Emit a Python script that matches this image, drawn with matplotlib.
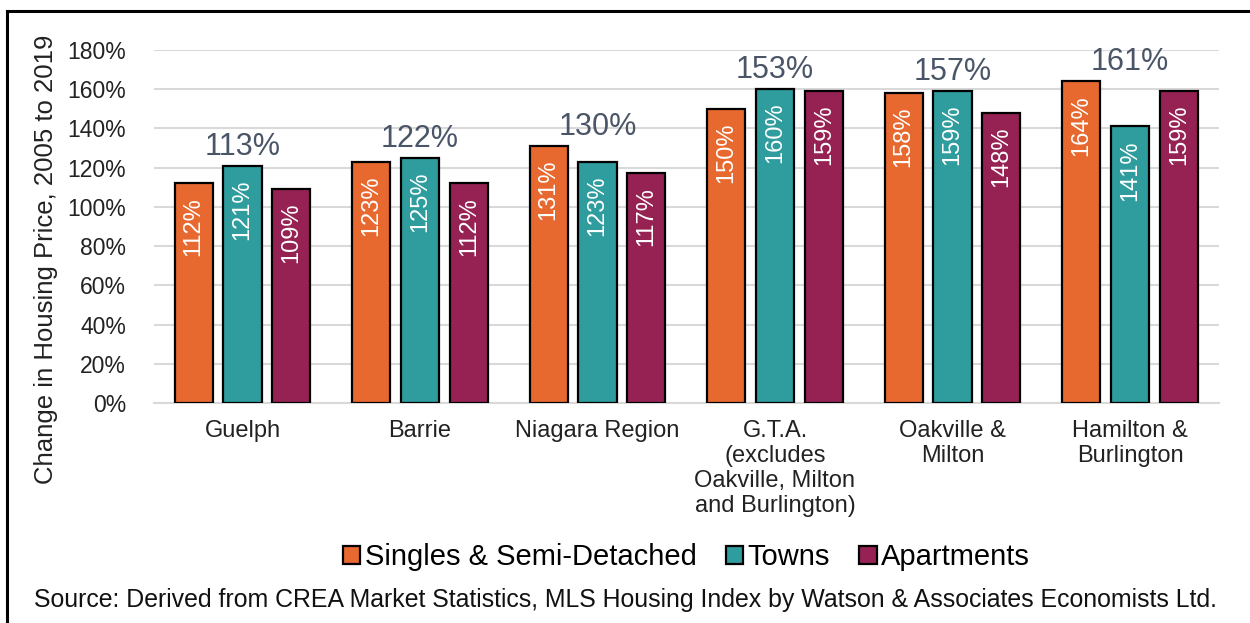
import matplotlib.pyplot as plt
import matplotlib.lines as mlines
import numpy as np

plt.rcParams['font.family'] = ['Liberation Sans', 'DejaVu Sans']

# data
regions = ['Guelph', 'Barrie', 'Niagara Region',
           'G.T.A.\n(excludes\nOakville, Milton\nand Burlington)',
           'Oakville &\nMilton', 'Hamilton &\nBurlington']
singles = [112, 123, 131, 150, 158, 164]
towns = [121, 125, 123, 160, 159, 141]
apartments = [109, 112, 117, 159, 148, 159]
averages = [113, 122, 130, 153, 157, 161]
series_names = ['Singles & Semi-Detached', 'Towns', 'Apartments']
colors = ['#E8692F', '#2F9C9E', '#962254']

fig = plt.figure(figsize=(12.5, 6.23), dpi=100)
ax = fig.add_axes([0.123, 0.353, 0.852, 0.567])

x = np.arange(len(regions))
width = 0.215
gap = 0.275
for i, (vals, name, c) in enumerate(zip([singles, towns, apartments], series_names, colors)):
    pos = x + (i - 1) * gap
    bars = ax.bar(pos, vals, width, color=c, edgecolor='black', linewidth=1.6,
                  label=name, zorder=3)
    for b, v in zip(bars, vals):
        ax.text(b.get_x() + b.get_width() / 2, v - 7, f'{v}%', rotation=90,
                ha='center', va='top', color='white', fontsize=17, zorder=4)

# group average labels above the tallest bar of each group
group_max = np.max([singles, towns, apartments], axis=0)
for xi, m, a in zip(x, group_max, averages):
    ax.text(xi, m + 2, f'{a}%', ha='center', va='bottom', fontsize=22,
            color='#4A5568', zorder=4)

ax.set_xlim(-0.5, len(regions) - 0.5)
ax.set_ylim(0, 180)
ax.set_yticks(np.arange(0, 181, 20))
ax.set_yticklabels([f'{t}%' for t in range(0, 181, 20)], fontsize=16.5, color='#222222')
ax.set_xticks(x)
ax.set_xticklabels(regions, fontsize=17, color='#222222', linespacing=1.18,
                   va='top')
ax.tick_params(axis='both', length=0)
ax.tick_params(axis='y', pad=20)
ax.tick_params(axis='x', pad=12)
ax.grid(axis='y', color='#D9D9D9', linewidth=1.5, zorder=0)
for s in ['top', 'right', 'left']:
    ax.spines[s].set_visible(False)
ax.spines['bottom'].set_color('#D9D9D9')
ax.spines['bottom'].set_linewidth(1.5)

fig.text(0.037, 0.583, 'Change in Housing Price, 2005 to 2019', rotation=90,
         ha='center', va='center', fontsize=18.5, color='#222222')

ax.legend(loc='center', bbox_to_anchor=(0.5, -0.436), ncol=3, frameon=False,
          fontsize=21, handlelength=0.6, handleheight=0.6, handletextpad=0.15,
          columnspacing=1.0)

fig.text(0.027, 0.037, 'Source: Derived from CREA Market Statistics, MLS Housing Index '
         'by Watson & Associates Economists Ltd.', fontsize=17.9, color='#111111',
         ha='left', va='center')

# frame (top and left edges visible in the original)
fig.add_artist(mlines.Line2D([0.0056, 1.0], [0.982, 0.982], color='black', linewidth=2.2))
fig.add_artist(mlines.Line2D([0.0056, 0.0056], [0.0, 0.982], color='black', linewidth=2.2))

fig.savefig('out.png', dpi=100)
